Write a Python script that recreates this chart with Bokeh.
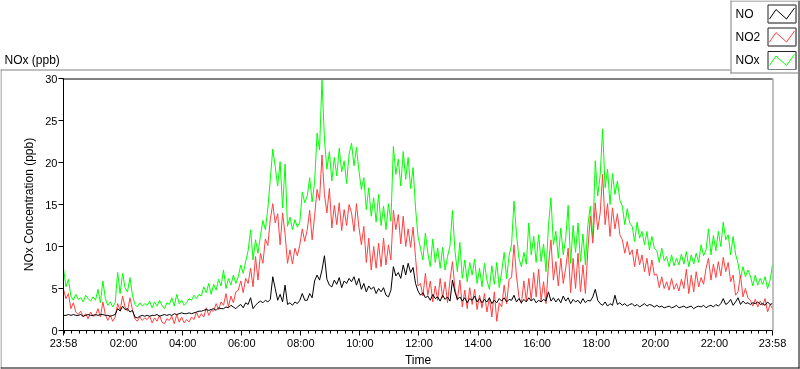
from bokeh.plotting import figure
from bokeh.models import Range1d, FixedTicker
from bokeh.core.properties import value
from bokeh.embed import file_html
from bokeh.resources import INLINE

# ---- data (minutes after 23:58 of previous day, 5-min steps) ----
nox = [7.4, 5.2, 6.1,
       4.1, 3.6, 4.3, 3.7, 3.9, 3.4, 4.2, 3.8, 3.5, 4.0,
       3.6, 4.9, 3.3, 5.9, 3.8,
       3.0, 3.4, 2.8, 3.3,
       6.9, 4.4, 6.8, 5.1, 4.6, 6.3, 4.2,
       3.1, 2.8, 3.3, 2.9, 3.2,
       3.0, 3.5, 2.7, 3.4, 2.9, 3.6, 3.0, 2.6, 3.3,
       3.1, 3.9, 2.9, 4.3, 3.2, 3.6, 3.0,
       3.3, 3.8,
       3.6, 4.2, 3.8, 4.3,
       4.1, 5.2, 4.5, 5.6, 4.3,
       5.5, 4.8, 6.1, 5.3,
       7.2, 5.0, 6.2, 5.4, 6.6, 5.6,
       6.4, 7.8, 6.8, 8.2,
       9.5, 12.0,
       8.4, 10.8, 9.2,
       11.3, 13.1, 12.0, 14.5,
       18.0, 21.6, 19.5,
       17.2, 20.1, 14.6, 19.8,
       12.4, 13.5, 12.0, 13.2,
       12.3, 12.9,
       16.5, 15.2,
       16.0, 18.2, 15.3, 17.6,
       23.5, 21.5,
       29.8,
       22.8,
       19.2, 21.3,
       17.8, 20.6, 18.4, 21.7, 18.9, 20.2, 17.5, 21.0,
       22.3, 19.6, 21.8, 19.0,
       16.8, 18.2, 14.4, 17.0,
       13.6, 15.8, 12.9, 16.2,
       12.5, 14.8, 12.0, 15.1, 13.0,
       21.9, 18.6, 20.4,
       17.2, 21.3, 18.0, 20.6, 16.9, 19.4,
       14.6, 11.2,
       9.8, 8.4, 11.6,
       9.2, 7.6, 10.9, 8.1, 9.8, 7.4,
       9.9, 7.2, 8.8, 10.1,
       14.3,
       9.5, 7.0, 10.5,
       6.2, 8.4, 5.8, 8.1, 6.6,
       8.5, 5.6, 7.4, 5.2, 8.0,
       6.0, 4.9, 7.7, 5.5, 8.1, 5.1,
       7.0, 9.3, 6.2, 8.9,
       10.2, 15.4, 11.5,
       8.6, 7.6, 9.3, 7.9,
       12.8,
       9.0, 11.2, 8.1, 11.4,
       8.2, 10.3, 7.0,
       12.5, 15.8, 10.2,
       11.8, 8.6, 12.2, 9.0, 11.0,
       14.9, 8.0, 12.5, 9.3,
       12.8, 8.2, 11.5, 7.8, 12.6,
       14.8, 11.0,
       20.2, 16.0, 18.5,
       24.0,
       17.0, 19.2, 15.0, 18.7, 16.2, 17.8, 15.5,
       14.8, 12.6, 14.5, 12.8,
       12.4, 10.6, 12.9, 11.0, 11.8,
       10.2, 11.8, 9.6, 11.2, 9.8,
       9.5, 8.1, 9.8, 8.3,
       8.8, 7.6, 9.0, 7.7, 8.6, 7.8, 9.1, 7.9,
       9.4, 7.6, 9.0, 7.9, 9.2, 8.1,
       10.2, 8.9, 9.6,
       12.1, 9.0, 11.3, 9.5, 11.8, 10.0,
       12.9, 10.8,
       11.4, 9.0, 11.2, 9.1,
       8.0, 6.2, 7.6, 6.4, 7.2,
       6.5, 5.3, 6.6, 5.4, 6.2, 5.5, 6.4,
       5.0, 6.0, 7.8]

no2 = [4.9, 3.8, 4.4,
       2.6, 3.3, 2.2, 1.9, 2.3, 1.6, 2.0, 1.4, 2.2, 1.7,
       1.8, 2.6, 1.6, 3.4, 1.9,
       1.2, 1.8, 1.1, 1.6,
       3.2, 2.4, 4.1, 2.8, 2.3, 3.9, 2.5,
       1.4, 1.1, 1.6, 1.2, 1.5,
       1.3, 1.7, 0.9, 1.5, 1.1, 1.8, 1.0, 0.8, 1.4,
       1.2, 1.7, 0.8, 1.9, 1.0, 1.6, 0.9,
       1.3, 1.0,
       1.6, 1.3, 2.2, 1.5,
       2.0, 1.6, 2.7, 1.8, 2.4,
       2.3, 3.2, 2.5, 3.4,
       3.0, 4.4, 2.8, 4.1, 3.3, 4.6,
       4.8, 5.9, 4.5, 6.2,
       5.6, 7.4,
       5.2, 8.8, 6.0,
       9.2, 8.0, 10.9, 10.1,
       13.2, 15.1, 12.8,
       13.9, 10.2, 14.0, 11.5,
       8.0, 9.6, 7.9, 9.8,
       8.9, 10.2,
       12.1, 10.6,
       12.0, 14.3, 10.8, 13.6,
       16.8, 15.5,
       20.9,
       16.2,
       14.0, 16.9,
       12.2, 14.9, 12.6, 15.2, 11.9, 14.4, 12.5, 15.0,
       14.0, 11.8, 15.1, 12.3,
       10.2, 12.4, 8.1, 11.0,
       7.2, 10.0, 7.4, 10.4,
       7.6, 11.0, 7.8, 10.2, 8.4,
       14.3, 12.0, 13.8,
       10.3, 13.6, 10.0, 12.1, 9.9, 12.3,
       8.7, 5.3,
       5.6, 4.1, 6.8,
       4.2, 5.9, 3.4, 5.3, 3.6, 6.2,
       3.9, 5.8, 3.3, 6.0,
       8.2,
       5.0, 3.6, 6.0,
       2.8, 4.8, 2.6, 5.1, 3.1,
       4.9, 2.5, 4.2, 2.7, 4.4,
       2.2, 3.9, 1.6, 4.6, 1.1, 3.3,
       2.8, 5.4, 3.2, 6.1,
       6.3, 10.2, 6.5,
       4.0, 3.2, 5.9, 3.5,
       6.2,
       3.6, 6.9, 4.0, 7.3,
       3.5, 5.8, 3.2,
       7.8, 10.8, 6.0,
       8.2, 5.3, 8.6, 5.6, 7.4,
       9.8, 4.5, 8.6, 5.0,
       9.2, 4.6, 7.8, 4.4, 9.6,
       13.6, 10.4,
       15.2, 12.0, 14.0,
       18.6,
       12.6, 15.1, 11.2, 14.6, 12.1, 13.9, 11.4,
       10.8, 9.2, 10.6, 9.0,
       9.6, 7.6, 9.7, 7.8, 9.0,
       7.0, 8.6, 6.5, 8.4, 6.6,
       6.7, 5.1, 6.4, 5.0,
       5.8, 4.8, 6.2, 4.9, 5.6, 4.7, 6.1, 5.0,
       7.3, 4.4, 6.6, 4.6, 7.0, 5.2,
       6.3, 5.5, 7.4,
       8.6, 6.0, 7.9, 6.3, 8.2, 6.5,
       8.7, 7.0,
       8.1, 5.8, 6.6, 4.2,
       4.6, 6.6, 4.0, 5.0, 3.9,
       3.6, 2.9, 3.7, 2.8, 3.5, 3.0, 3.8,
       2.2, 3.1, 2.6]

no = [1.8, 1.8, 1.9,
      1.8, 1.9, 1.8, 1.8, 1.9, 1.7, 1.8, 1.9, 1.8, 1.8,
      1.9, 1.8, 1.9, 1.9, 1.8,
      1.8, 1.7, 1.8, 1.9,
      2.6, 2.3, 2.9, 2.5, 2.6, 2.2, 2.4,
      1.6, 1.5, 1.7, 1.8, 1.7,
      1.8, 1.7, 1.8, 1.8, 1.9, 1.7, 1.8, 1.9, 1.8,
      1.9, 1.8, 2.0, 1.9, 2.0, 2.1, 2.0,
      2.0, 2.1,
      2.0, 2.1, 2.2, 2.3,
      2.3, 2.4, 2.5, 2.4, 2.5,
      2.6, 2.4, 2.7, 2.6,
      2.6, 2.8, 2.7, 3.0, 2.8, 2.6,
      2.9, 3.1, 2.7, 3.3,
      3.1, 3.9,
      2.6, 3.0, 3.3,
      3.5, 3.3, 3.6, 3.4,
      3.7, 6.4, 5.0,
      3.6, 4.3, 3.4, 5.4,
      3.1, 3.3, 3.0, 3.4,
      3.2, 3.6,
      4.4, 3.6,
      3.6, 4.4, 3.9, 5.9,
      6.6, 6.0,
      7.2,
      8.9,
      6.1, 5.4,
      5.2, 6.0, 5.5, 6.3, 5.1, 5.9, 5.6, 6.2,
      5.8, 6.4, 5.4, 6.2,
      4.9, 5.6, 4.6, 5.3,
      4.9, 5.2, 4.4, 5.0,
      4.6, 5.1, 4.2, 4.0, 4.8,
      7.6, 6.5, 6.9,
      6.2, 7.8, 6.6, 8.0, 6.9, 7.5,
      5.6, 4.7,
      4.2, 4.5, 3.9,
      4.1, 3.6, 4.3, 3.8, 4.0, 3.5,
      4.2, 3.7, 4.0, 3.5,
      6.0,
      4.6, 3.7, 4.0,
      3.5, 3.9, 3.3, 3.8, 3.6,
      4.1, 3.4, 3.8, 3.3, 3.7,
      3.4, 3.9, 3.2, 3.6, 3.3, 3.8,
      3.5, 3.9, 3.4, 3.7,
      3.6, 4.2, 3.4,
      3.8, 3.3, 3.7, 3.4,
      3.9,
      3.5, 3.8, 3.3, 3.6,
      3.4, 3.7, 3.5,
      4.6, 3.5, 3.9,
      3.4, 3.8, 3.3, 4.1, 3.5,
      3.9, 3.2, 3.7, 3.4,
      3.6, 3.2, 3.8, 3.3, 3.6,
      3.5, 4.0,
      4.9, 3.6, 3.2,
      3.0,
      3.4, 2.9, 3.2, 3.0, 4.2, 3.1, 3.3,
      3.0, 3.2, 2.9, 3.1,
      3.2, 2.9, 3.1, 2.8, 3.0,
      3.2, 2.9, 3.1, 3.0, 2.8,
      3.0, 2.8, 2.9, 2.7,
      2.8, 2.9, 2.7, 2.8, 3.0, 2.7, 2.8, 2.9,
      2.7, 2.8, 2.9, 2.6, 2.8, 2.9,
      2.8, 3.0, 2.7,
      2.9, 3.0, 2.8, 3.1, 2.9, 3.2,
      3.8, 3.1,
      3.3, 3.7, 3.0, 3.4,
      3.9, 3.1, 3.5, 3.2, 3.3,
      3.1, 3.3, 3.2, 3.4, 3.1, 3.2, 3.0,
      3.4, 3.1, 3.2]

step_min = 5
minutes = [i * step_min for i in range(len(nox))]

major_ticks = [0, 122, 242, 362, 482, 602, 722, 842, 962, 1082, 1202, 1322, 1440]
major_labels = ["23:58", "02:00", "04:00", "06:00", "08:00", "10:00", "12:00",
                "14:00", "16:00", "18:00", "20:00", "22:00", "23:58"]
minor_ticks = list(range(2, 1441, 15))
y_ticks = [0, 5, 10, 15, 20, 25, 30]

series_names = ["NO", "NO2", "NOx"]
series_colors = ["#000000", "#ff4040", "#00ff00"]

FONT = "Liberation Sans"
W, H = 800, 369
FL, FT, FR, FB = 63, 78, 772, 330
GREY = "#808080"

# ---------- background panel (borders, title, legend) ----------
bg = figure(width=W, height=H, output_backend="svg", toolbar_location=None,
            x_range=Range1d(0, W), y_range=Range1d(H, 0),
            x_axis_type=None, y_axis_type=None, min_border=0)
bg.styles = {"position": "fixed", "left": "0px", "top": "0px", "z-index": "0"}
bg.outline_line_color = None
bg.grid.visible = False


def seg(x0, y0, x1, y1, color):
    bg.segment(x0=[x0], y0=[y0], x1=[x1], y1=[y1], line_color=color, line_width=1)


seg(0, 69.5, 730, 69.5, GREY)
seg(0.5, 69, 0.5, 368, GREY)
seg(0, 367.5, 799, 367.5, "black")
seg(798.5, 0, 798.5, 368, "black")
seg(730.5, 0, 730.5, 73, GREY)
seg(730, 0.5, 799, 0.5, GREY)
seg(730, 72.5, 799, 72.5, GREY)
seg(FL - 1, FT + 0.5, FR, FT + 0.5, "black")
seg(FR + 0.5, FT, FR + 0.5, FB, GREY)

bg.text(x=[4], y=[59], text=["NOx (ppb)"], text_font=value(FONT),
        text_font_size="12px", text_baseline="middle", text_align="left",
        text_color="black")

row_y = [13, 36, 59.5]
for name, col, yy in zip(series_names, series_colors, row_y):
    bg.text(x=[735], y=[yy], text=[name], text_font=value(FONT),
            text_font_size="12px", text_baseline="middle", text_align="left",
            text_color="black")
    bg.quad(left=[767.5], right=[795.5], top=[yy - 8.5], bottom=[yy + 9.5],
            fill_color="white", line_color="#202020", line_width=1)
    seg(767.5, yy + 9.5, 795.5, yy + 9.5, GREY)
    seg(795.5, yy - 8.5, 795.5, yy + 9.5, GREY)
    bg.line(x=[769, 775.5, 786, 794], y=[yy + 5.5, yy - 4, yy + 5.5, yy - 5.5],
            line_color=col, line_width=1)

# ---------- main chart ----------
p = figure(width=W, height=H, output_backend="svg", toolbar_location=None,
           x_range=Range1d(0, 1440), y_range=Range1d(0, 30),
           min_border_left=FL, min_border_right=W - FR,
           min_border_top=FT, min_border_bottom=H - FB)
p.styles = {"position": "fixed", "left": "0px", "top": "0px", "z-index": "1"}
p.outline_line_color = None
p.grid.visible = False
p.background_fill_alpha = 0
p.border_fill_alpha = 0

p.line(minutes, nox, color=series_colors[2], line_width=1)
p.line(minutes, no2, color=series_colors[1], line_width=1)
p.line(minutes, no, color=series_colors[0], line_width=1)

xa = p.xaxis[0]
xa.ticker = FixedTicker(ticks=major_ticks, minor_ticks=minor_ticks)
xa.major_label_overrides = {t: l for t, l in zip(major_ticks, major_labels)}
xa.axis_label = "Time"
ya = p.yaxis[0]
ya.ticker = FixedTicker(ticks=y_ticks)
ya.axis_label = "NOx Concentration (ppb)"
for ax in (xa, ya):
    ax.axis_line_color = "black"
    ax.major_tick_line_color = "black"
    ax.minor_tick_line_color = "black"
    ax.major_label_text_font = FONT
    ax.major_label_text_font_size = "11px"
    ax.major_label_text_color = "black"
    ax.axis_label_text_font = FONT
    ax.axis_label_text_font_size = "12px"
    ax.axis_label_text_font_style = "normal"
    ax.axis_label_text_color = "black"
    ax.major_label_standoff = 1
    ax.axis_label_standoff = 1
xa.major_tick_out = 5
xa.major_tick_in = 0
xa.minor_tick_out = 3
xa.minor_tick_in = 0
ya.major_tick_out = 5
ya.major_tick_in = 0
ya.minor_tick_line_color = None
ya.axis_label_standoff = 6

open("out.html", "w").write(file_html([bg, p], INLINE))
